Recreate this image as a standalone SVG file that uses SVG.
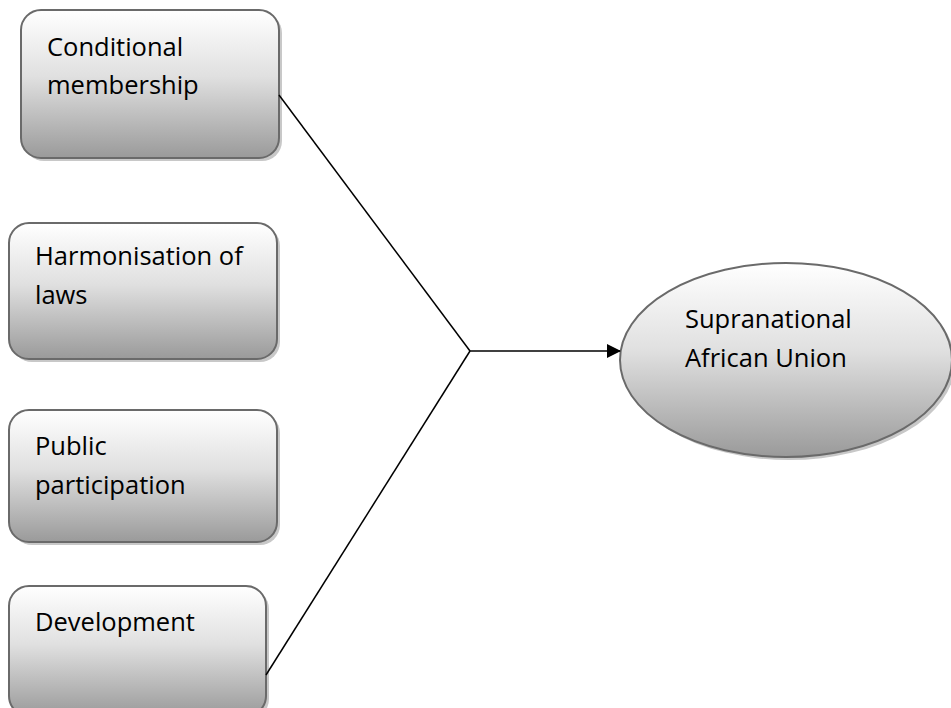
<svg xmlns="http://www.w3.org/2000/svg" width="951" height="708" viewBox="0 0 951 708">
<defs>
<linearGradient id="g" x1="0" y1="0" x2="0" y2="1">
<stop offset="0" stop-color="#ffffff"/>
<stop offset="0.45" stop-color="#e0e0e0"/>
<stop offset="1" stop-color="#9a9a9a"/>
</linearGradient>
<marker id="arr" markerWidth="14" markerHeight="14" refX="13" refY="7" orient="auto" markerUnits="userSpaceOnUse" viewBox="0 0 14 14">
<path d="M0,0 L14,7 L0,14 z" fill="#000"/>
</marker>
</defs>
<style>
.box{fill:url(#g);stroke:#6a6a6a;stroke-width:2}
.sh{fill:#c8c8c8}
.t{font-family:"Open Sans","Liberation Sans",sans-serif;font-size:25.5px;fill:#000}
.c{stroke:#000;stroke-width:1.5;fill:none}
</style>
<g id="n1">
<rect class="sh" x="24" y="13" width="258" height="148" rx="20"/>
<rect class="box" x="21" y="10" width="258" height="148" rx="20"/>
<text class="t" x="47" y="56">Conditional</text>
<text class="t" x="47" y="94">membership</text>
</g>
<g id="n2">
<rect class="sh" x="12" y="226" width="268" height="136" rx="20"/>
<rect class="box" x="9" y="223" width="268" height="136" rx="20"/>
<text class="t" x="35" y="265">Harmonisation of</text>
<text class="t" x="35" y="304">laws</text>
</g>
<g id="n3">
<rect class="sh" x="12" y="413" width="268" height="132" rx="20"/>
<rect class="box" x="9" y="410" width="268" height="132" rx="20"/>
<text class="t" x="35" y="455">Public</text>
<text class="t" x="35" y="494">participation</text>
</g>
<g id="n4">
<rect class="sh" x="12" y="589" width="257" height="130" rx="20"/>
<rect class="box" x="9" y="586" width="257" height="130" rx="20"/>
<text class="t" x="35" y="631">Development</text>
</g>
<g id="n5">
<ellipse class="sh" cx="789" cy="363" rx="166" ry="97"/>
<ellipse class="box" cx="786" cy="360" rx="166" ry="97"/>
<text class="t" x="685" y="328">Supranational</text>
<text class="t" x="685" y="367">African Union</text>
</g>
<g id="connectors">
<line class="c" x1="279" y1="95" x2="470" y2="351"/>
<line class="c" x1="266" y1="675" x2="470" y2="351"/>
<line class="c" x1="470" y1="351" x2="620" y2="351" marker-end="url(#arr)"/>
</g>
</svg>
